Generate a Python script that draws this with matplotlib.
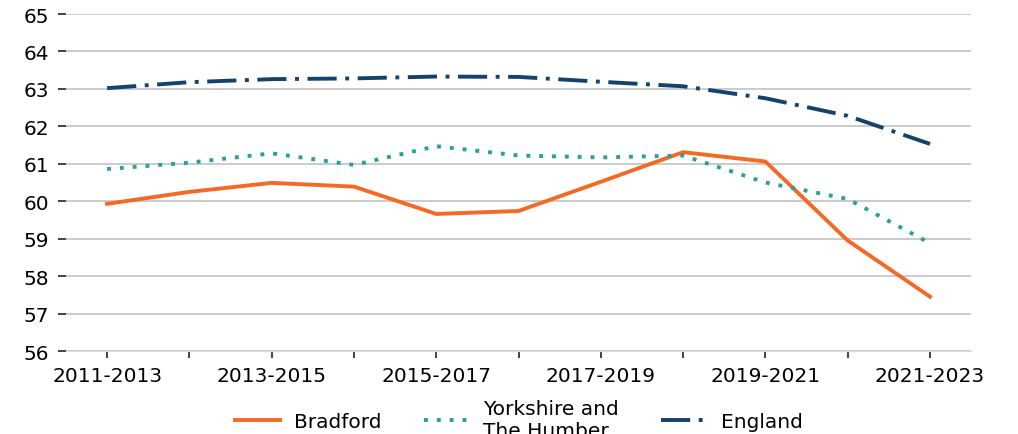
import matplotlib.pyplot as plt

periods = ['2011-2013', '2012-2014', '2013-2015', '2014-2016', '2015-2017', '2016-2018',
           '2017-2019', '2018-2020', '2019-2021', '2020-2022', '2021-2023']
bradford = [59.93, 60.25, 60.49, 60.39, 59.66, 59.74, 60.52, 61.31, 61.06, 58.95, 57.45]
yorkshire = [60.86, 61.03, 61.28, 60.97, 61.47, 61.22, 61.17, 61.22, 60.50, 60.06, 58.88]
england = [63.02, 63.18, 63.26, 63.28, 63.33, 63.32, 63.19, 63.07, 62.75, 62.28, 61.53]

fig = plt.figure(figsize=(10.18, 4.35), dpi=100)
ax = fig.add_axes([0.0648, 0.1908, 0.8892, 0.7747])

x = list(range(len(periods)))
ax.plot(x, bradford, color='#F46A25', lw=2.8, label='Bradford')
ax.plot(x, yorkshire, color='#28A197', lw=2.8, linestyle=(0, (1, 2.3)), label='Yorkshire and\nThe Humber')
ax.plot(x, england, color='#12436D', lw=2.8, linestyle=(0, (7.5, 2.2, 1, 2.2)), label='England')

ax.set_ylim(56, 65)
ax.set_xlim(-0.5, 10.5)
ax.set_yticks(range(56, 66))
ax.set_xticks(x)
ax.set_xticklabels([p if i % 2 == 0 else '' for i, p in enumerate(periods)])
ax.grid(axis='y', color='#bdbdbd', lw=1.1)
ax.set_axisbelow(True)
for s in ['left', 'right', 'top']:
    ax.spines[s].set_visible(False)
ax.spines['bottom'].set_color('#dcdcdc')
ax.tick_params(axis='y', length=6, width=1.2, color='#222222', labelsize=14.5, pad=6)
ax.tick_params(axis='x', length=5, width=1.2, color='#222222', labelsize=14.5, pad=6)

ax.legend(loc='center', bbox_to_anchor=(0.5, -0.202), ncol=3, frameon=False,
          fontsize=14.5, handlelength=2.25, columnspacing=2.1, handletextpad=0.7)

fig.savefig('out.png', dpi=100)
